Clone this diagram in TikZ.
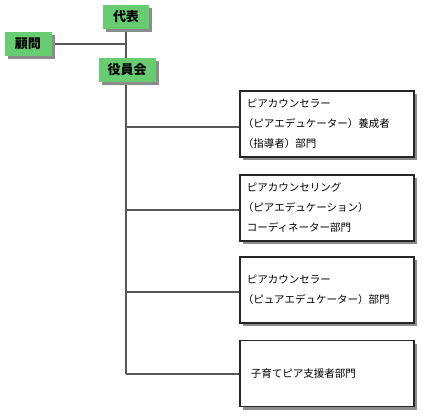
\documentclass[tikz,border=0pt]{standalone}
\usepackage{fontspec}
\newfontfamily\jpfont{Noto Sans CJK JP}
\usepackage{tikz}
\usetikzlibrary{shadows}
\definecolor{rolegreen}{RGB}{104,204,112}
\definecolor{linkgray}{RGB}{88,88,88}
\newcommand\lparen{\leavevmode\kern-4pt（}

\begin{document}
\begin{tikzpicture}[x=1pt,y=-1pt,font=\jpfont]
 \tikzset{role/.style={fill=rolegreen,minimum height=24pt,inner sep=0pt,
            font=\jpfont\bfseries\fontsize{13}{15}\selectfont,
            drop shadow={shadow xshift=3pt,shadow yshift=-3pt,fill=black!45,opacity=1}},
          dept/.style={draw=black!85,line width=1.6pt,fill=white,anchor=west,
            minimum width=174pt,minimum height=66pt,text width=160pt,inner xsep=7pt,align=left,
            font=\jpfont\fontsize{10.5}{20}\selectfont,
            drop shadow={shadow xshift=3pt,shadow yshift=-3pt,fill=black!45,opacity=1}},
          link/.style={draw=linkgray,line width=2.6pt}}
 \fill[white] (0,0) rectangle (424,420);
 \useasboundingbox (0,0) rectangle (424,420);
 % links first
 \coordinate (trunk) at (126,17);
 \coordinate (komonend) at (126,44);
 \coordinate (trunkend) at (126,374);
 \draw[link] (trunk) -- (trunkend);
 \draw[link] (28,44) -- (komonend);
 \foreach \y in {127,210,292,374}
   \draw[link] (126,\y) -- (240,\y);
 % roles
 \node[role,minimum width=46pt] (daihyo) at (126,17) {代表};
 \node[role,minimum width=47pt] (komon) at (28,44) {顧問};
 \node[role,minimum width=57pt] (yakuin) at (127,70) {役員会};
 % departments
 \node[dept] (counselor) at (239,124) {ピアカウンセラー\\\lparen ピアエデュケーター）養成者\\\lparen 指導者）部門};
 \node[dept] (coordinator) at (239,208) {ピアカウンセリング\\\lparen ピアエデュケーション）\\コーディネーター部門};
 \node[dept] (educator) at (239,290) {ピアカウンセラー\\\lparen ピュアエデュケーター）部門};
 \node[dept,text width=152pt,inner xsep=11pt] (support) at (239,373.5) {子育てピア支援者部門};
\end{tikzpicture}
\end{document}
